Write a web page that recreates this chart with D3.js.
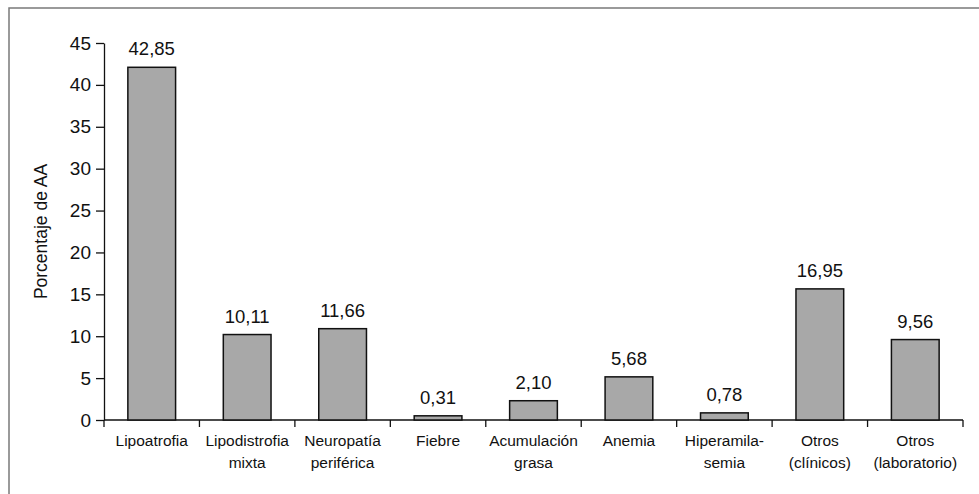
<!DOCTYPE html>
<html>
<head>
	<meta charset="utf-8">
	<title>Porcentaje de AA</title>
	<script src="https://cdn.jsdelivr.net/npm/d3@7"></script>
</head>
<style type="text/css">
	body { margin: 0; background: #fff; }
	text { font-family: "Liberation Sans", Arial, sans-serif; fill: #111; }
</style>
<body>
</body>
</html>
<script type="text/javascript">
	var width = 979;
	var height = 494;

	// categories (each one split in the lines shown under the axis)
	var categories = ["Lipoatrofia", "Lipodistrofia mixta", "Neuropatía periférica", "Fiebre", "Acumulación grasa", "Anemia", "Hiperamilasemia", "Otros (clínicos)", "Otros (laboratorio)"];
	var catLines = [["Lipoatrofia"], ["Lipodistrofia", "mixta"], ["Neuropatía", "periférica"], ["Fiebre"], ["Acumulación", "grasa"], ["Anemia"], ["Hiperamila-", "semia"], ["Otros", "(clínicos)"], ["Otros", "(laboratorio)"]];
	// bar heights as drawn in the picture
	var values = [42.1, 10.2, 10.9, 0.5, 2.3, 5.15, 0.85, 15.65, 9.6];
	// labels printed above the bars
	var valueLabels = ["42,85", "10,11", "11,66", "0,31", "2,10", "5,68", "0,78", "16,95", "9,56"];
	var yTicks = [0, 5, 10, 15, 20, 25, 30, 35, 40, 45];

	var svg = d3.select("body").append("svg").attr("width", width).attr("height", height);

	// outer frame
	svg.append("rect").attr("x", 9).attr("y", 8).attr("width", 1000).attr("height", 600)
		.attr("fill", "none").attr("stroke", "#7a7a7a").attr("stroke-width", 1.5);

	var x = d3.scaleBand().domain(categories).range([104, 963]).paddingInner(0.5).paddingOuter(0.25);
	var y = d3.scaleLinear().domain([0, 45]).range([420, 43]);

	// y axis
	var yAxis = svg.append("g").attr("transform", "translate(104,0)")
		.call(d3.axisLeft(y).tickValues(yTicks).tickSize(8).tickPadding(5).tickSizeOuter(0));
	yAxis.selectAll("text").style("font-size", "19px").attr("font-family", null);
	yAxis.selectAll("path, line").attr("stroke", "#111").attr("stroke-width", 1.3);

	// x axis line + ticks between categories
	svg.append("line").attr("x1", 104).attr("x2", 963).attr("y1", y(0)).attr("y2", y(0))
		.attr("stroke", "#111").attr("stroke-width", 1.3);
	var bounds = d3.range(categories.length + 1).map(function(i){ return x.range()[0] + i * x.step(); });
	svg.selectAll(".xtick").data(bounds).enter().append("line")
		.attr("x1", function(d){ return d; }).attr("x2", function(d){ return d; })
		.attr("y1", y(0)).attr("y2", y(0) + 7)
		.attr("stroke", "#111").attr("stroke-width", 1.3);

	// bars
	svg.selectAll(".bar").data(values).enter().append("rect")
		.attr("x", function(d, i){ return x(categories[i]); })
		.attr("y", function(d){ return y(d); })
		.attr("width", x.bandwidth())
		.attr("height", function(d){ return y(0) - y(d); })
		.attr("fill", "#a8a8a8")
		.attr("stroke", "#111")
		.attr("stroke-width", 1.5);

	// value labels
	svg.selectAll(".val").data(values).enter().append("text")
		.attr("x", function(d, i){ return x(categories[i]) + x.bandwidth() / 2; })
		.attr("y", function(d){ return y(d) - 12; })
		.attr("text-anchor", "middle")
		.style("font-size", "18.5px")
		.text(function(d, i){ return valueLabels[i]; });

	// category labels
	var cat = svg.selectAll(".cat").data(catLines).enter().append("text")
		.attr("text-anchor", "middle")
		.style("font-size", "15.5px")
		.attr("transform", function(d, i){ return "translate(" + (x(categories[i]) + x.bandwidth() / 2) + ",446)"; });
	cat.selectAll("tspan").data(function(d){ return d; }).enter().append("tspan")
		.attr("x", 0)
		.attr("y", function(d, j){ return j * 22; })
		.text(function(d){ return d; });

	// y title
	svg.append("text")
		.attr("transform", "translate(47," + (y(22.5)) + ") rotate(-90)")
		.attr("text-anchor", "middle")
		.style("font-size", "17.5px")
		.text("Porcentaje de AA");
</script>
